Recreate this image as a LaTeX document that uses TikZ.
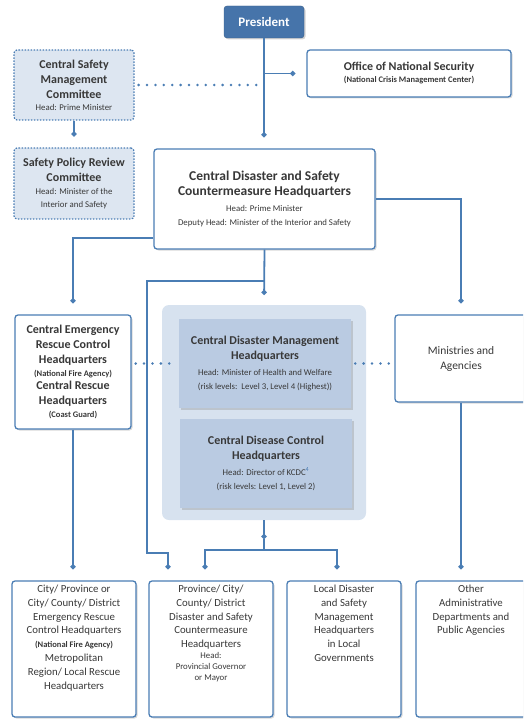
\documentclass[tikz,border=0pt]{standalone}
\usepackage{fontspec}
\setmainfont{Carlito}
\usetikzlibrary{positioning}
\usetikzlibrary{arrows.meta}
\usetikzlibrary{shadows}

\definecolor{lineblue}{HTML}{4A7DB4}
\definecolor{presblue}{HTML}{4674AA}
\definecolor{dashfill}{HTML}{DDE6F1}
\definecolor{panelfill}{HTML}{D7E2EF}
\definecolor{innerfill}{HTML}{BACBE2}
\definecolor{textgray}{HTML}{383838}

\newcommand{\hqbig}{\bfseries\fontsize{13.5}{16}\selectfont}
\newcommand{\hqtitle}{\bfseries\fontsize{12}{15}\selectfont}
\newcommand{\hqnote}{\mdseries\fontsize{8.8}{13}\selectfont}
\newcommand{\hqnotebf}{\bfseries\fontsize{8.5}{13}\selectfont}
\newcommand{\hqlow}{\mdseries\fontsize{10.8}{13.8}\selectfont}
\newcommand{\lowtext}[2]{\parbox[c][128pt][t]{#1}{\centering\hqlow #2}}

\tikzstyle{presbox} = [fill=presblue, draw=presblue!80!black, rounded corners=3pt, text=white, font=\bfseries\fontsize{13}{15}\selectfont, drop shadow={shadow xshift=1.5pt, shadow yshift=-1.5pt, opacity=.35}]
\tikzstyle{orgbox} = [draw=lineblue, line width=1.3pt, rounded corners=3pt, fill=white, text=textgray, align=center, inner sep=4pt, font=\hqtitle, drop shadow={shadow xshift=1.5pt, shadow yshift=-1.5pt, opacity=.3}]
\tikzstyle{dashbox} = [draw=lineblue, line width=1.2pt, dash pattern=on 1.5pt off 1.5pt, rounded corners=3pt, fill=dashfill, text=textgray, align=center, font=\hqtitle]
\tikzstyle{panelbox} = [fill=panelfill, rounded corners=7pt]
\tikzstyle{innerbox} = [fill=innerfill, text=textgray, align=center, font=\hqtitle, drop shadow={shadow xshift=1.5pt, shadow yshift=-1.5pt, opacity=.3}]
\tikzstyle{hqlink} = [draw=lineblue, line width=1.8pt, -{Circle[length=5pt]}, shorten >=11pt]
\tikzstyle{rail} = [draw=lineblue, line width=1.8pt]
\tikzstyle{dotlink} = [draw=lineblue, line width=2.8pt, line cap=round, dash pattern=on 0pt off 8.4pt, shorten <=4pt, shorten >=4pt]

\begin{document}
\begin{tikzpicture}[x=1pt, y=-1pt]
  \useasboundingbox (0,0) rectangle (523,719);
  \clip (0,0) rectangle (523,719);

  % top row
  \node[presbox, minimum width=80pt, minimum height=32pt] (pres) at (264,22) {President};
  \node[dashbox, minimum width=120pt, minimum height=70pt] (csmc) at (74,85)
    {Central Safety\\Management\\Committee\\[-3pt]{\hqnote Head: Prime Minister}};
  \node[orgbox, minimum width=204pt, minimum height=47pt] (ons) at (409,73.5)
    {Office of National Security\\[-3pt]{\hqnotebf (National Crisis Management Center)}};

  % second row
  \node[dashbox, minimum width=120pt, minimum height=71pt] (sprc) at (74,183.5)
    {Safety Policy Review\\Committee\\[-2pt]{\hqnote Head: Minister of the}\\[-2pt]{\hqnote Interior and Safety}};
  \node[orgbox, minimum width=221pt, minimum height=100pt] (cdsch) at (264.5,199)
    {{\hqbig Central Disaster and Safety}\\{\hqbig Countermeasure Headquarters}\\[1pt]{\hqnote Head: Prime Minister}\\[-1pt]{\hqnote Deputy Head: Minister of the Interior and Safety}};

  % middle row
  \node[panelbox, minimum width=204pt, minimum height=215pt] (panel) at (264,412.5) {};
  \node[innerbox, minimum width=172pt, minimum height=89pt] (cdmh) at (265,363.5)
    {Central Disaster Management\\Headquarters\\[1pt]{\hqnote Head: Minister of Health and Welfare}\\[-1pt]{\hqnote (risk levels:\ \ Level 3, Level 4 (Highest))}};
  \node[innerbox, minimum width=172pt, minimum height=89pt] (cdch) at (266,463.5)
    {Central Disease Control\\Headquarters\\[1pt]{\hqnote Head: Director of KCDC\textsuperscript{\color{lineblue}4}}\\[-1pt]{\hqnote (risk levels: Level 1, Level 2)}};
  \node[orgbox, minimum width=116pt, minimum height=114pt] (cerch) at (73,372)
    {Central Emergency\\Rescue Control\\Headquarters\\[-2pt]{\hqnotebf (National Fire Agency)}\\[-2pt]Central Rescue\\Headquarters\\[-2pt]{\hqnotebf (Coast Guard)}};
  \node[orgbox, minimum width=132pt, minimum height=87pt, font=\mdseries\fontsize{11.5}{15}\selectfont] (minis) at (461,358.5)
    {Ministries and\\Agencies};

  % bottom row
  \node[orgbox, minimum width=124pt, minimum height=136pt, inner sep=4pt] (city) at (74,649)
    {\lowtext{116pt}{City/ Province or\\City/ County/ District\\Emergency Rescue\\Control Headquarters\\{\hqnotebf (National Fire Agency)}\\Metropolitan\\Region/ Local Rescue\\Headquarters}};
  \node[orgbox, minimum width=124pt, minimum height=136pt, inner sep=4pt] (prov) at (211,649)
    {\lowtext{116pt}{Province/ City/\\County/ District\\Disaster and Safety\\Countermeasure\\Headquarters\\[-3pt]{\hqnote Head:}\\[-3pt]{\hqnote Provincial Governor}\\[-3pt]{\hqnote or Mayor}}};
  \node[orgbox, minimum width=114pt, minimum height=136pt, inner sep=4pt] (local) at (344,649)
    {\lowtext{106pt}{Local Disaster\\and Safety\\Management\\Headquarters\\in Local\\Governments}};
  \node[orgbox, minimum width=110pt, minimum height=136pt, inner sep=4pt] (other) at (471,649)
    {\lowtext{100pt}{Other\\Administrative\\Departments and\\Public Agencies}};

  \coordinate (leftrail) at (147,281);
  \coordinate (leftfoot) at (147,553);
  \coordinate (fork) at (264,550);

  % connectors
  \draw[hqlink] (pres.south) -- (pres.south |- cdsch.north);
  \draw[hqlink] (pres.south |- ons.west) -- (ons.west);
  \draw[dotlink] (csmc.east) -- (pres.south |- csmc.east);
  \draw[hqlink] (csmc) -- (sprc);
  \draw[hqlink] ([yshift=12pt]cdsch.south west) -| (cerch.north);
  \draw[hqlink] (cdsch.east) -| (minis.north);
  \draw[hqlink, shorten >=10pt] (cdsch.south) -- (panel.north);
  \draw[hqlink] (cdsch.south) |- (leftrail) -- (leftfoot) -| ([xshift=-43pt]prov.north);
  \draw[hqlink] (panel.south) -- (fork);
  \draw[rail] ([yshift=11pt]fork) -- (fork);
  \draw[hqlink] (fork) -| ([xshift=-6pt]prov.north);
  \draw[hqlink] (fork) -| ([xshift=-7pt]local.north);
  \draw[dotlink] (cerch.east |- cdmh.west) -- (cdmh.west);
  \draw[dotlink] (cdmh.east) -- (minis.west |- cdmh.east);
  \draw[hqlink] (cerch.south) -- (cerch.south |- city.north);
  \draw[hqlink] (minis.south) -- (minis.south |- other.north);
\end{tikzpicture}
\end{document}
